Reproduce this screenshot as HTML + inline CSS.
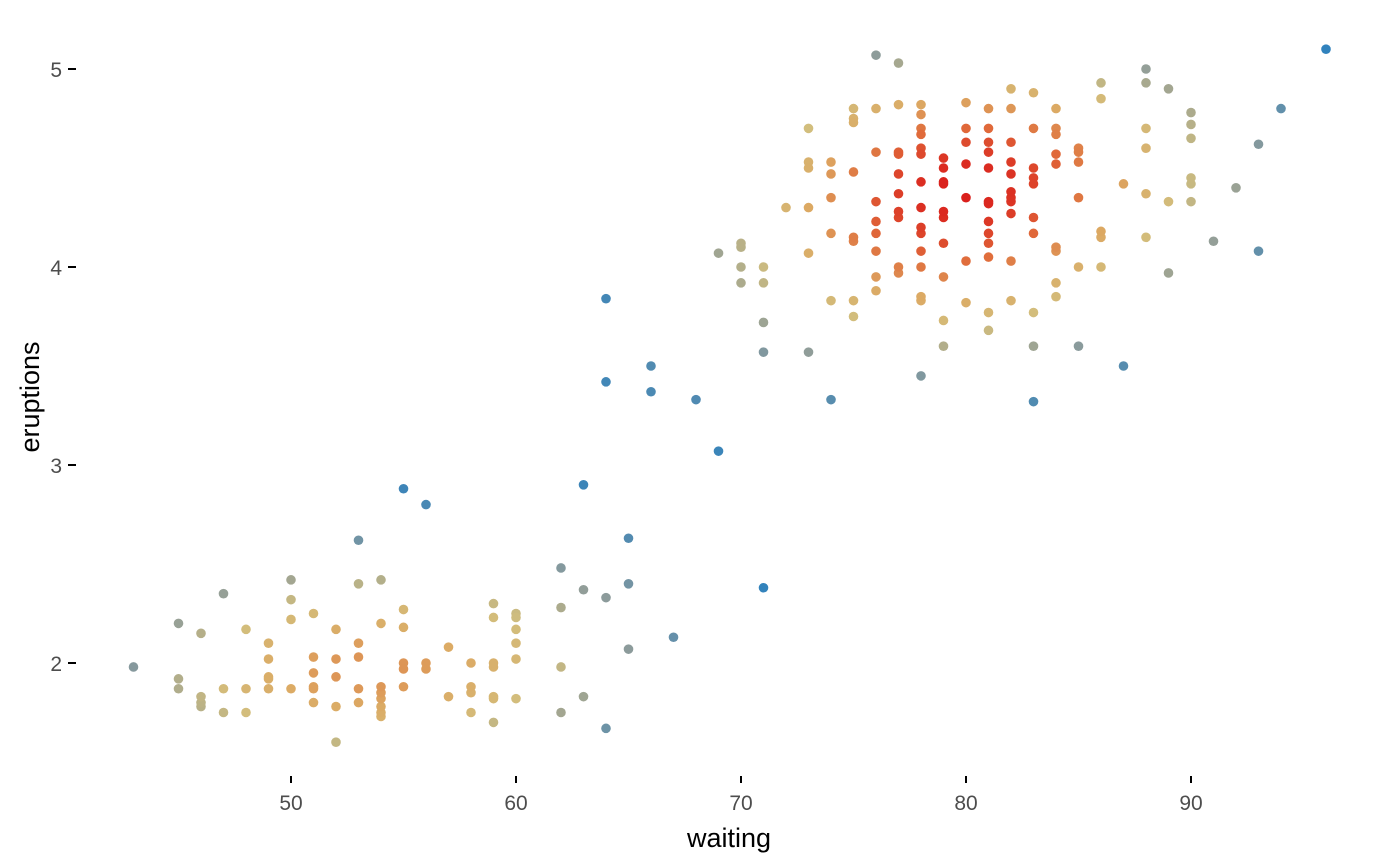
<!DOCTYPE html>
<html><head><meta charset="utf-8">
<style>
html,body{margin:0;padding:0;background:#fff;}
svg{display:block;font-family:"Liberation Sans",Arial,sans-serif;}
</style></head>
<body>
<svg id="chart" width="1400" height="865">
<g id="points"></g>
<g id="axes"></g>
<text x="729" y="847" font-size="27" text-anchor="middle" fill="#000">waiting</text>
<text transform="translate(39,397) rotate(-90)" font-size="27" text-anchor="middle" fill="#000">eruptions</text>
</svg>
<script>
const xTicks=[50,60,70,80,90];
const yTicks=[2,3,4,5];
const waiting=[43,45,45,45,46,46,46,46,47,47,47,48,48,48,49,49,49,49,49,50,50,50,50,51,51,51,51,51,51,52,52,52,52,52,53,53,53,53,53,53,54,54,54,54,54,54,54,54,55,55,55,55,55,55,56,56,56,57,57,58,58,58,58,59,59,59,59,59,59,59,60,60,60,60,60,60,62,62,62,62,63,63,63,64,64,64,64,65,65,65,66,66,67,68,69,69,70,70,70,70,71,71,71,71,71,72,73,73,73,73,73,73,74,74,74,74,74,74,75,75,75,75,75,75,75,75,76,76,76,76,76,76,76,76,76,77,77,77,77,77,77,77,77,77,77,78,78,78,78,78,78,78,78,78,78,78,78,78,78,78,79,79,79,79,79,79,79,79,79,79,80,80,80,80,80,80,80,81,81,81,81,81,81,81,81,81,81,81,81,81,82,82,82,82,82,82,82,82,82,82,82,83,83,83,83,83,83,83,83,83,83,84,84,84,84,84,84,84,84,84,85,85,85,85,85,85,86,86,86,86,86,87,87,88,88,88,88,88,88,89,89,89,90,90,90,90,90,90,91,92,93,93,94,96];
const eruptions=[1.98,2.2,1.92,1.87,2.15,1.83,1.8,1.78,2.35,1.87,1.75,2.17,1.87,1.75,2.1,2.02,1.93,1.92,1.87,2.42,2.32,2.22,1.87,2.25,2.03,1.95,1.88,1.87,1.8,2.17,2.02,1.93,1.78,1.6,2.62,2.4,2.1,2.03,1.87,1.8,2.42,2.2,1.88,1.85,1.82,1.78,1.75,1.73,2.88,2.27,2.18,2.0,1.97,1.88,2.8,2.0,1.97,2.08,1.83,2.0,1.88,1.85,1.75,2.3,2.23,2.0,1.98,1.83,1.82,1.7,2.25,2.23,2.17,2.1,2.02,1.82,2.48,2.28,1.98,1.75,2.9,2.37,1.83,3.84,3.42,2.33,1.67,2.63,2.4,2.07,3.5,3.37,2.13,3.33,4.07,3.07,4.12,4.1,4.0,3.92,4.0,3.92,3.72,3.57,2.38,4.3,4.7,4.53,4.5,4.3,4.07,3.57,4.53,4.47,4.35,4.17,3.83,3.33,4.8,4.75,4.73,4.48,4.15,4.13,3.83,3.75,5.07,4.8,4.58,4.33,4.23,4.17,4.08,3.95,3.88,5.03,4.82,4.58,4.57,4.47,4.37,4.28,4.25,4.0,3.97,4.82,4.77,4.7,4.67,4.6,4.57,4.43,4.3,4.2,4.17,4.08,4.0,3.85,3.83,3.45,4.55,4.5,4.43,4.42,4.28,4.25,4.12,3.95,3.73,3.6,4.83,4.7,4.63,4.52,4.35,4.03,3.82,4.8,4.7,4.63,4.58,4.5,4.33,4.32,4.23,4.17,4.12,4.05,3.77,3.68,4.9,4.8,4.63,4.53,4.47,4.38,4.35,4.33,4.27,4.03,3.83,4.88,4.7,4.5,4.45,4.42,4.25,4.17,3.77,3.6,3.32,4.8,4.7,4.67,4.57,4.52,4.1,4.08,3.92,3.85,4.6,4.58,4.53,4.35,4.0,3.6,4.93,4.85,4.18,4.15,4.0,4.42,3.5,5.0,4.93,4.7,4.6,4.37,4.15,4.9,4.33,3.97,4.78,4.72,4.65,4.45,4.42,4.33,4.13,4.4,4.62,4.08,4.8,5.1];

const NS='http://www.w3.org/2000/svg';
const sx=v=>291+(v-50)*22.5;
const sy=v=>69+(5-v)*198;
const n=waiting.length;
const dens=[];
for(let i=0;i<n;i++){let s=0;for(let j=0;j<n;j++){const dx=(waiting[i]-waiting[j])/4.5,dy=(eruptions[i]-eruptions[j])/0.3;s+=Math.exp(-0.5*(dx*dx+dy*dy));}dens.push(s);}
const dmin=Math.min(...dens),dmax=Math.max(...dens);
const stops=[[0,[49,130,189]],[0.2,[140,155,155]],[0.4,[210,190,125]],[0.58,[220,170,100]],[0.78,[224,110,60]],[1,[218,32,28]]];
function col(t){for(let k=1;k<stops.length;k++){if(t<=stops[k][0]){const a=stops[k-1],b=stops[k];const u=(t-a[0])/(b[0]-a[0]);return 'rgb('+a[1].map((c,i)=>Math.round(c+(b[1][i]-c)*u)).join(',')+')';}}return 'rgb(218,32,28)';}
const order=[...Array(n).keys()].sort((a,b)=>dens[a]-dens[b]);
const pg=document.getElementById('points');
for(const i of order){
 const c=document.createElementNS(NS,'circle');
 c.setAttribute('cx',sx(waiting[i]));c.setAttribute('cy',sy(eruptions[i]));c.setAttribute('r',4.8);
 c.setAttribute('fill',col((dens[i]-dmin)/(dmax-dmin)));
 
 
 pg.appendChild(c);
}
const ag=document.getElementById('axes');
for(const t of xTicks){
 const l=document.createElementNS(NS,'line');
 l.setAttribute('x1',sx(t));l.setAttribute('x2',sx(t));l.setAttribute('y1',776);l.setAttribute('y2',783);l.setAttribute('stroke','#000');l.setAttribute('stroke-width',2);
 
 
 ag.appendChild(l);
 const tx=document.createElementNS(NS,'text');
 tx.setAttribute('x',sx(t));tx.setAttribute('y',810);tx.setAttribute('font-size',21);tx.setAttribute('text-anchor','middle');tx.setAttribute('fill','#4d4d4d');tx.textContent=t;
 
 
 ag.appendChild(tx);
}
for(const t of yTicks){
 const l=document.createElementNS(NS,'line');
 l.setAttribute('x1',68);l.setAttribute('x2',76);l.setAttribute('y1',sy(t));l.setAttribute('y2',sy(t));l.setAttribute('stroke','#000');l.setAttribute('stroke-width',2);
 
 
 ag.appendChild(l);
 const tx=document.createElementNS(NS,'text');
 tx.setAttribute('x',62);tx.setAttribute('y',sy(t)+8);tx.setAttribute('font-size',21);tx.setAttribute('text-anchor','end');tx.setAttribute('fill','#4d4d4d');tx.textContent=t;
 
 
 ag.appendChild(tx);
}
</script>
</body></html>
